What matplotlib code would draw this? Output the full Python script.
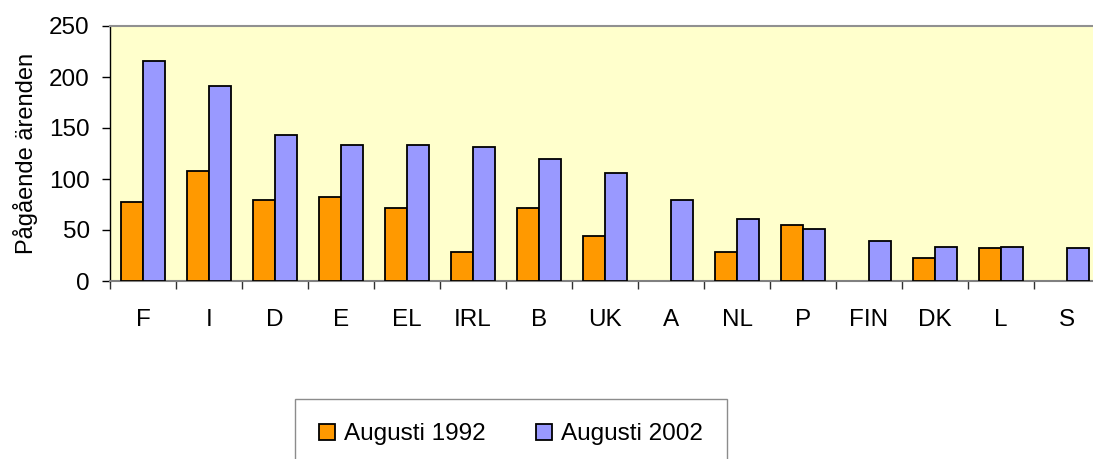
import matplotlib
matplotlib.use("Agg")
import matplotlib.pyplot as plt
import numpy as np

plt.rcParams["font.family"] = ["Liberation Sans", "DejaVu Sans"]

ORANGE, LAVENDER, PAPER = "#FF9900", "#9999FF", "#FFFFCC"

countries = ["F", "I", "D", "E", "EL", "IRL", "B", "UK", "A", "NL", "P", "FIN", "DK", "L", "S"]
aug_1992 = [77, 108, 79, 82, 72, 28, 72, 44, np.nan, 28, 55, np.nan, 23, 32, np.nan]
aug_2002 = [216, 191, 143, 133, 133, 131, 120, 106, 79, 61, 51, 39, 33, 33, 32]

W, H = 1093, 459
fig = plt.figure(figsize=(W / 100, H / 100), dpi=100)
ax = fig.add_axes([110 / W, 1 - 281 / H, 990 / W, 255 / H])
ax.set_facecolor(PAPER)

x = np.arange(len(countries))
w = 1 / 3
v92 = np.array(aug_1992, dtype=float)
v02 = np.array(aug_2002, dtype=float)
m = np.isfinite(v92)
ax.bar(x[m] - w / 2, v92[m], w, color=ORANGE, edgecolor="black", linewidth=1.3,
       label="Augusti 1992", zorder=3)
ax.bar(x + w / 2, v02, w, color=LAVENDER, edgecolor="black", linewidth=1.3,
       label="Augusti 2002", zorder=3)

ax.set_xlim(-0.5, len(countries) - 0.5)
ax.set_ylim(0, 250)
ax.set_yticks(range(0, 251, 50))

# boundary ticks without labels, labels at category centres
ax.set_xticks(np.arange(-0.5, len(countries), 1))
ax.set_xticklabels([])
ax.set_xticks(x, minor=True)
ax.set_xticklabels(countries, minor=True)
ax.tick_params(axis="x", which="major", length=5.5, width=1, color="#303030", direction="out")
ax.tick_params(axis="x", which="minor", length=0, pad=20, labelsize=17.5)
ax.tick_params(axis="y", length=5.5, width=1, direction="out", pad=9, labelsize=17.5)

ax.spines["right"].set_visible(False)
ax.spines["top"].set_color("#909090")
ax.spines["top"].set_linewidth(1.5)
ax.spines["bottom"].set_color("#808080")
ax.spines["bottom"].set_linewidth(1.5)
ax.spines["left"].set_color("black")
ax.spines["left"].set_linewidth(1.0)

ax.set_ylabel("Pågående ärenden", fontsize=17, labelpad=8)

leg = fig.legend(loc="upper left", bbox_to_anchor=(295 / W, 1 - 399 / H), ncol=2,
                 fontsize=17.5, frameon=True, fancybox=False, edgecolor="#707070",
                 borderpad=1.0, handlelength=0.65, handleheight=0.65,
                 handletextpad=0.35, columnspacing=2.1, borderaxespad=0)
leg.get_frame().set_linewidth(1.0)

fig.savefig("out.png", dpi=100)
